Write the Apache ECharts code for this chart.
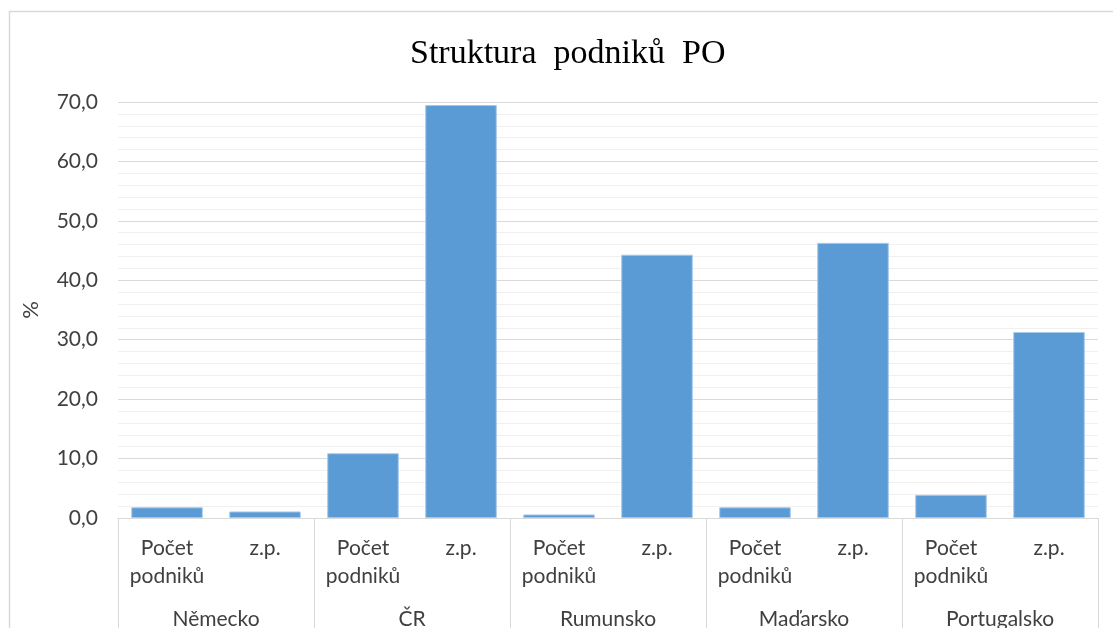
<!DOCTYPE html>
<html>
<head>
<meta charset="utf-8">
<script src="https://cdn.jsdelivr.net/npm/echarts@6/dist/echarts.min.js"></script>
<style>
  html, body { margin: 0; padding: 0; background: #fff; }
  #chart { width: 1113px; height: 628px; }
</style>
</head>
<body>
<div id="chart"></div>
<script>
// data
var countries = ['Německo', 'ČR', 'Rumunsko', 'Maďarsko', 'Portugalsko']
var subcats = ['Počet\npodniků', 'z.p.']
var values = [1.8, 1.1, 10.9, 69.5, 0.6, 44.3, 1.8, 46.3, 3.9, 31.3]
var yTicks = [0, 10, 20, 30, 40, 50, 60, 70]

var keys = []
countries.forEach(function (c) {
  subcats.forEach(function (s) {
    keys.push(c + '|' + s)
  })
})

var font = 'Lato, "Open Sans", sans-serif'
var chart = echarts.init(document.getElementById('chart'))
chart.setOption({
  animation: false,
  backgroundColor: '#fff',
  title: {
    text: 'Struktura  podniků  PO',
    left: 405,
    top: 32,
    textStyle: {
      fontFamily: '"Liberation Serif", serif',
      fontSize: 34,
      fontWeight: 'normal',
      color: '#000'
    }
  },
  graphic: [{
    type: 'rect',
    shape: { x: 9.5, y: 11.5, width: 1300, height: 800 },
    style: { fill: null, stroke: '#d9d9d9', lineWidth: 1.5 },
    silent: true
  }],
  grid: { left: 118, right: 15, top: 102, bottom: 110, outerBoundsMode: 'none' },
  xAxis: [
    {
      type: 'category',
      data: keys,
      axisLine: { lineStyle: { color: '#d9d9d9', width: 1 } },
      axisTick: { show: false },
      axisLabel: {
        interval: 0,
        margin: 16,
        fontFamily: font,
        fontSize: 21,
        lineHeight: 28,
        color: '#404040',
        formatter: function (v) { return v.split('|')[1] }
      }
    },
    {
      type: 'category',
      data: countries,
      position: 'bottom',
      axisLine: { show: false },
      axisTick: { show: true, interval: 0, length: 130, lineStyle: { color: '#d9d9d9' } },
      axisLabel: {
        interval: 0,
        margin: 87,
        fontFamily: font,
        fontSize: 21,
        lineHeight: 28,
        color: '#404040'
      }
    }
  ],
  yAxis: {
    type: 'value',
    min: yTicks[0],
    max: yTicks[yTicks.length - 1],
    interval: 10,
    name: '%',
    nameLocation: 'middle',
    nameRotate: 90,
    nameGap: 76,
    nameTextStyle: { fontFamily: font, fontSize: 22, color: '#404040' },
    axisLine: { show: false },
    axisTick: { show: false },
    axisLabel: {
      margin: 20,
      fontFamily: font,
      fontSize: 21,
      color: '#404040',
      formatter: function (v) { return v.toFixed(1).replace('.', ',') }
    },
    splitLine: { lineStyle: { color: '#d9d9d9', width: 1 } },
    minorTick: { show: false, splitNumber: 5 },
    minorSplitLine: { show: true, lineStyle: { color: '#f0f0f0', width: 1 } }
  },
  series: [{
    type: 'bar',
    xAxisIndex: 0,
    data: values,
    barCategoryGap: '27%',
    itemStyle: { color: '#5b9bd5', borderColor: '#a8c8ea', borderWidth: 1 }
  }]
})
</script>
</body>
</html>
